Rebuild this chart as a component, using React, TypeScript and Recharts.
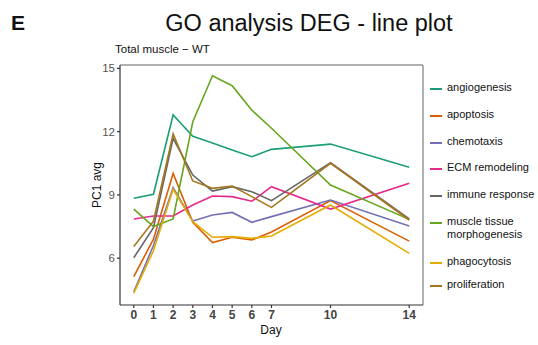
import React from 'react';
import { LineChart, Line, XAxis, YAxis, ReferenceLine } from 'recharts';

const days = [0, 1, 2, 3, 4, 5, 6, 7, 10, 14];
const xTicks = [0, 1, 2, 3, 4, 5, 6, 7, 10, 14];
const yTicks = [6, 9, 12, 15];

const angiogenesis = [8.84, 9.03, 12.79, 11.78, 11.46, 11.13, 10.81, 11.16, 11.41, 10.31];
const apoptosis = [5.12, 6.9, 10.02, 7.7, 6.74, 6.99, 6.86, 7.24, 8.73, 6.81];
const chemotaxis = [4.41, 6.6, 9.34, 7.76, 8.05, 8.17, 7.7, 7.97, 8.76, 7.53];
const ecmRemodeling = [7.86, 8.0, 8.0, 8.52, 8.95, 8.92, 8.7, 9.39, 8.33, 9.55];
const immuneResponse = [6.02, 7.45, 11.68, 9.94, 9.18, 9.39, 9.15, 8.73, 10.53, 7.86];
const muscleTissue = [8.33, 7.5, 7.86, 12.47, 14.65, 14.18, 13.02, 12.16, 9.47, 7.84];
const phagocytosis = [4.34, 6.35, 9.27, 7.73, 6.99, 7.02, 6.94, 7.05, 8.52, 6.23];
const proliferation = [6.55, 7.75, 11.89, 9.66, 9.31, 9.42, 8.92, 8.41, 10.5, 7.81];

const seriesNames = [
  'angiogenesis',
  'apoptosis',
  'chemotaxis',
  'ECM remodeling',
  'immune response',
  'muscle tissue morphogenesis',
  'phagocytosis',
  'proliferation',
];
const seriesValues = [
  angiogenesis,
  apoptosis,
  chemotaxis,
  ecmRemodeling,
  immuneResponse,
  muscleTissue,
  phagocytosis,
  proliferation,
];
const seriesColors = ['#1B9E77', '#D95F02', '#7570B3', '#E7298A', '#666666', '#66A61E', '#E6AB02', '#A6761D'];

const data = days.map((d, i) => {
  const row: Record<string, number> = { day: d };
  seriesNames.forEach((n, j) => {
    row[n] = seriesValues[j][i];
  });
  return row;
});

const xMin = -0.7;
const xMax = 14.7;
const yMin = 3.78;
const yMax = 15.16;

const font = '"Liberation Sans", Arial, Helvetica, sans-serif';

const legendY = [88, 115, 142, 168, 195, 222, 262, 285];

export default function App() {
  return (
    <div style={{ position: 'absolute', left: 0, top: 0, width: 538, height: 345, background: '#fff', fontFamily: font }}>
      <div style={{ position: 'absolute', left: 11, top: 11, fontSize: 21, fontWeight: 'bold', color: '#111' }}>E</div>
      <div style={{ position: 'absolute', left: 0, width: 618, top: 10, textAlign: 'center', fontSize: 23.5, color: '#111' }}>
        GO analysis DEG - line plot
      </div>
      <div style={{ position: 'absolute', left: 115, top: 43, fontSize: 11.5, color: '#111' }}>Total muscle − WT</div>
      <div
        style={{
          position: 'absolute',
          left: 97,
          top: 185,
          fontSize: 12,
          color: '#111',
          transform: 'translate(-50%, -50%) rotate(-90deg)',
          whiteSpace: 'nowrap',
        }}
      >
        PC1 avg
      </div>
      <div style={{ position: 'absolute', left: 271, top: 330, transform: 'translate(-50%, -50%)', fontSize: 12, color: '#111' }}>
        Day
      </div>
      <LineChart width={538} height={345} data={data} margin={{ top: 65, right: 115, bottom: 16, left: 80 }} style={{ position: 'absolute', left: 0, top: 0 }}>
        <XAxis
          dataKey="day"
          type="number"
          domain={[xMin, xMax]}
          ticks={xTicks}
          allowDataOverflow
          interval={0}
          height={24}
          tickSize={3}
          stroke="#333"
          strokeWidth={1.2}
          tick={{ fill: '#444', fontSize: 12, fontWeight: 'bold', fontFamily: font }}
        />
        <YAxis
          type="number"
          domain={[yMin, yMax]}
          ticks={yTicks}
          allowDataOverflow
          width={40}
          tickSize={3}
          stroke="#333"
          strokeWidth={1.2}
          tick={{ fill: '#555', fontSize: 11.5, fontFamily: font }}
        />
        <ReferenceLine y={yMax} stroke="#999" strokeWidth={1.5} ifOverflow="extendDomain" />
        <ReferenceLine x={xMax} stroke="#999" strokeWidth={1.5} ifOverflow="extendDomain" />
        {seriesNames.map((n, j) => (
          <Line
            key={n}
            dataKey={n}
            type="linear"
            stroke={seriesColors[j]}
            strokeWidth={1.6}
            dot={false}
            isAnimationActive={false}
          />
        ))}
      </LineChart>
      {seriesNames.map((n, j) => (
        <div key={n} style={{ position: 'absolute', left: 430, top: legendY[j] }}>
          <div style={{ position: 'absolute', left: 0, top: 0, width: 12, height: 1.6, background: seriesColors[j] }} />
          <div
            style={{
              position: 'absolute',
              left: 17,
              top: -7,
              fontSize: 11,
              lineHeight: '13px',
              color: '#111',
              width: 100,
            }}
          >
            {n}
          </div>
        </div>
      ))}
    </div>
  );
}
